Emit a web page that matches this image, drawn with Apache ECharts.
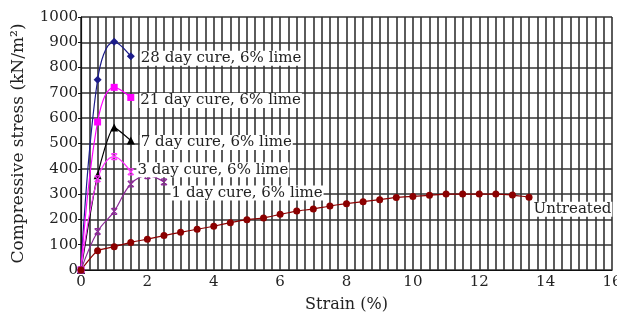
<!DOCTYPE html>
<html><head><meta charset="utf-8">
<script src="https://cdn.jsdelivr.net/npm/echarts@6/dist/echarts.min.js"></script>
<style>html,body{margin:0;padding:0;background:#fff}#c{width:617px;height:321px}</style>
</head><body><div id="c"></div>
<script>
const strainCure = [0, 0.5, 1, 1.5];
const day28 = [0, 752, 902, 845];
const day21 = [0, 585, 722, 682];
const day7 = [0, 375, 563, 512];
const day3 = [0, 360, 448, 388];
const strain1 = [0, 0.5, 1, 1.5, 2, 2.5];
const day1 = [0, 152, 232, 340, 373, 348];
const strainU = [0,0.5,1,1.5,2,2.5,3,3.5,4,4.5,5,5.5,6,6.5,7,7.5,8,8.5,9,9.5,10,10.5,11,11.5,12,12.5,13,13.5];
const untreated = [0,76,92,109,122,136,149,161,173,187,199,206,220,233,241,253,262,270,278,287,291,295,300,300,300,300,296,288];
const labels = ['28 day cure, 6% lime','21 day cure, 6% lime','7 day cure, 6% lime','3 day cure, 6% lime','1 day cure, 6% lime','Untreated'];

const font = 'DejaVu Serif';
const crossPath = 'path://M0,0L10,10M0,10L10,0M1,0L9,0M1,10L9,10';
function pts(xs, ys){ return xs.map((x,i)=>[x, ys[i]]); }
function mk(name, xs, ys, color, symbol, size, smooth, lblOffset){
  const d = pts(xs, ys).map((p,i,arr)=> i===arr.length-1 ? {value:p, label:{show:true, formatter:name, position:'right', offset:lblOffset, color:'#222', fontFamily:font, fontSize:15, backgroundColor:'#fff', padding:[0,1]}} : p);
  return {type:'line', name, data:d, smooth, symbol, symbolSize:size, showSymbol:true,
    lineStyle:{color, width:1.2}, itemStyle:{color, borderColor:color, borderWidth: symbol.startsWith('path')?1.2:0}, z:5};
}
const chart = echarts.init(document.getElementById('c'));
chart.setOption({
  animation:false,
  grid:{left:81, right:5, top:17, bottom:51, outerBoundsMode:'none', containLabel:false},
  xAxis:{type:'value', min:0, max:16, interval:2, name:'Strain (%)', nameLocation:'middle', nameGap:27,
    nameTextStyle:{fontFamily:font, fontSize:16, color:'#222'},
    axisLine:{lineStyle:{color:'#111', width:1.2}}, axisTick:{show:false},
    axisLabel:{fontFamily:font, fontSize:15, color:'#222', margin:5, showMaxLabel:true, alignMaxLabel:'center', hideOverlap:false},
    splitLine:{show:true, lineStyle:{color:'#333', width:1.6}},
    minorTick:{show:false, splitNumber:8}, minorSplitLine:{show:true, lineStyle:{color:'#333', width:1.6}}},
  yAxis:{type:'value', min:0, max:1000, interval:100, name:'Compressive stress (kN/m²)', nameLocation:'middle', nameGap:54,
    nameTextStyle:{fontFamily:font, fontSize:17, color:'#222'},
    axisLine:{show:true, lineStyle:{color:'#111', width:1.2}}, axisTick:{show:true, length:3, lineStyle:{color:'#111'}},
    axisLabel:{fontFamily:font, fontSize:15, color:'#222', margin:3, formatter:v=>String(v)},
    splitLine:{show:true, lineStyle:{color:'#333', width:1.6}}},
  series:[
    mk(labels[0], strainCure, day28, '#1c1c8a', 'diamond', 8, 0.4, [0,2]),
    mk(labels[1], strainCure, day21, '#ff00ff', 'rect', 7, 0.4, [0,3]),
    mk(labels[2], strainCure, day7, '#000000', 'triangle', 8, 0.2, [0,2]),
    mk(labels[3], strainCure, day3, '#ff33ff', crossPath, 6, 0.4, [-3,-2]),
    mk(labels[4], strain1, day1, '#8e2a9a', crossPath, 6, 0.4, [-2,11]),
    mk(labels[5], strainU, untreated, '#8b0000', 'circle', 7, 0.2, [-5,12])
  ]
});
</script></body></html>
